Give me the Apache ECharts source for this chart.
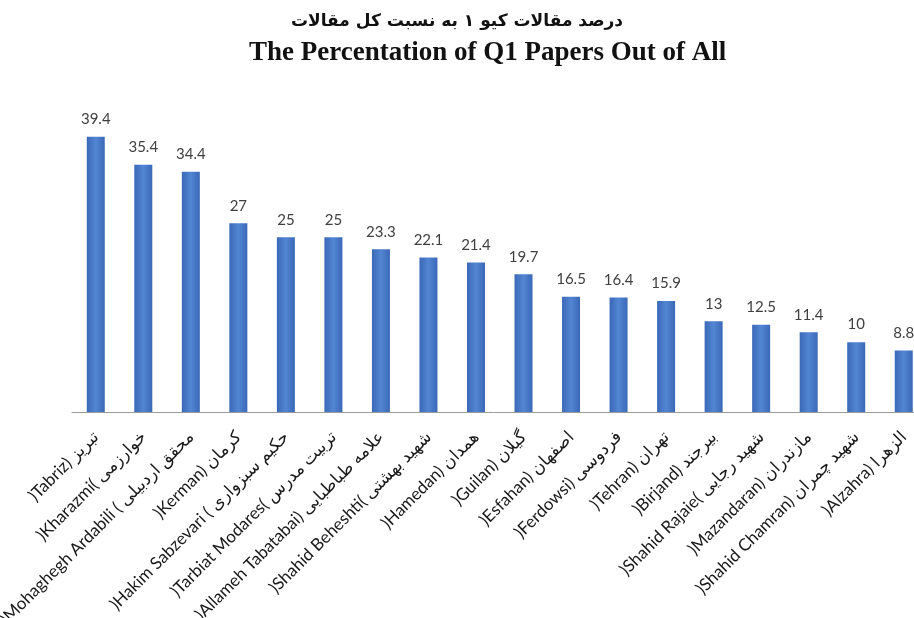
<!DOCTYPE html>
<html>
<head>
<meta charset="utf-8">
<script src="https://cdn.jsdelivr.net/npm/echarts@6/dist/echarts.min.js"></script>
<style>html,body{margin:0;padding:0;background:#fff}#c{width:914px;height:618px}</style>
</head>
<body>
<div id="c"></div>
<script>
const titleFa = "درصد مقالات کیو ۱ به نسبت کل مقالات";
const titleEn = "The Percentation of Q1 Papers Out of All";
const categories = [
  ")Tabriz) تبریز",
  ")Kharazmi( خوارزمی",
  ")Mohaghegh Ardabili ( محقق اردبیلی",
  ")Kerman) کرمان",
  ")Hakim Sabzevari ( حکیم سبزواری",
  ")Tarbiat Modares( تربیت مدرس",
  ")Allameh Tabatabai) علامه طباطبایی",
  ")Shahid Beheshti( شهید بهشتی",
  ")Hamedan) همدان",
  ")Guilan) گیلان",
  ")Esfahan) اصفهان",
  ")Ferdowsi) فردوسی",
  ")Tehran) تهران",
  ")Birjand) بیرجند",
  ")Shahid Rajaie( شهید رجایی",
  ")Mazandaran) مازندران",
  ")Shahid Chamran) شهید چمران",
  ")Alzahra) الزهرا"
];
const values = [39.4, 35.4, 34.4, 27, 25, 25, 23.3, 22.1, 21.4, 19.7, 16.5, 16.4, 15.9, 13, 12.5, 11.4, 10, 8.8];

const chart = echarts.init(document.getElementById('c'));
chart.setOption({
  animation: false,
  backgroundColor: '#ffffff',
  title: [
    {
      text: titleFa, left: 'center', top: 8,
      textStyle: {fontFamily: "'DejaVu Sans', sans-serif", fontWeight: 'bold', fontSize: 17, color: '#111'}
    },
    {
      text: titleEn, left: 244, top: 35,
      textStyle: {fontFamily: "'Liberation Serif', serif", fontWeight: 'bold', fontSize: 27, color: '#111'}
    }
  ],
  grid: {left: 72, top: 132.5, width: 855.5, height: 279.5, containLabel: false, outerBoundsMode: 'none'},
  xAxis: {
    type: 'category',
    data: categories,
    axisLine: {lineStyle: {color: '#9a9a9a', width: 1}},
    axisTick: {show: false},
    axisLabel: {
      rotate: 45, interval: 0, margin: 22,
      fontFamily: "Lato, 'DejaVu Sans', sans-serif", fontSize: 17, color: '#1a1a1a'
    }
  },
  yAxis: {
    type: 'value', min: 0, max: 40,
    show: false, splitLine: {show: false}
  },
  series: [{
    type: 'bar',
    data: values,
    barWidth: 18,
    itemStyle: {
      color: new echarts.graphic.LinearGradient(0, 0, 1, 0, [
        {offset: 0, color: '#3a68b8'},
        {offset: 0.5, color: '#5286d2'},
        {offset: 1, color: '#3a68b8'}
      ])
    },
    label: {
      show: true, position: 'top', distance: 10,
      fontFamily: "Lato, 'Open Sans', sans-serif", fontSize: 15, color: '#404040'
    }
  }]
});
</script>
</body>
</html>
